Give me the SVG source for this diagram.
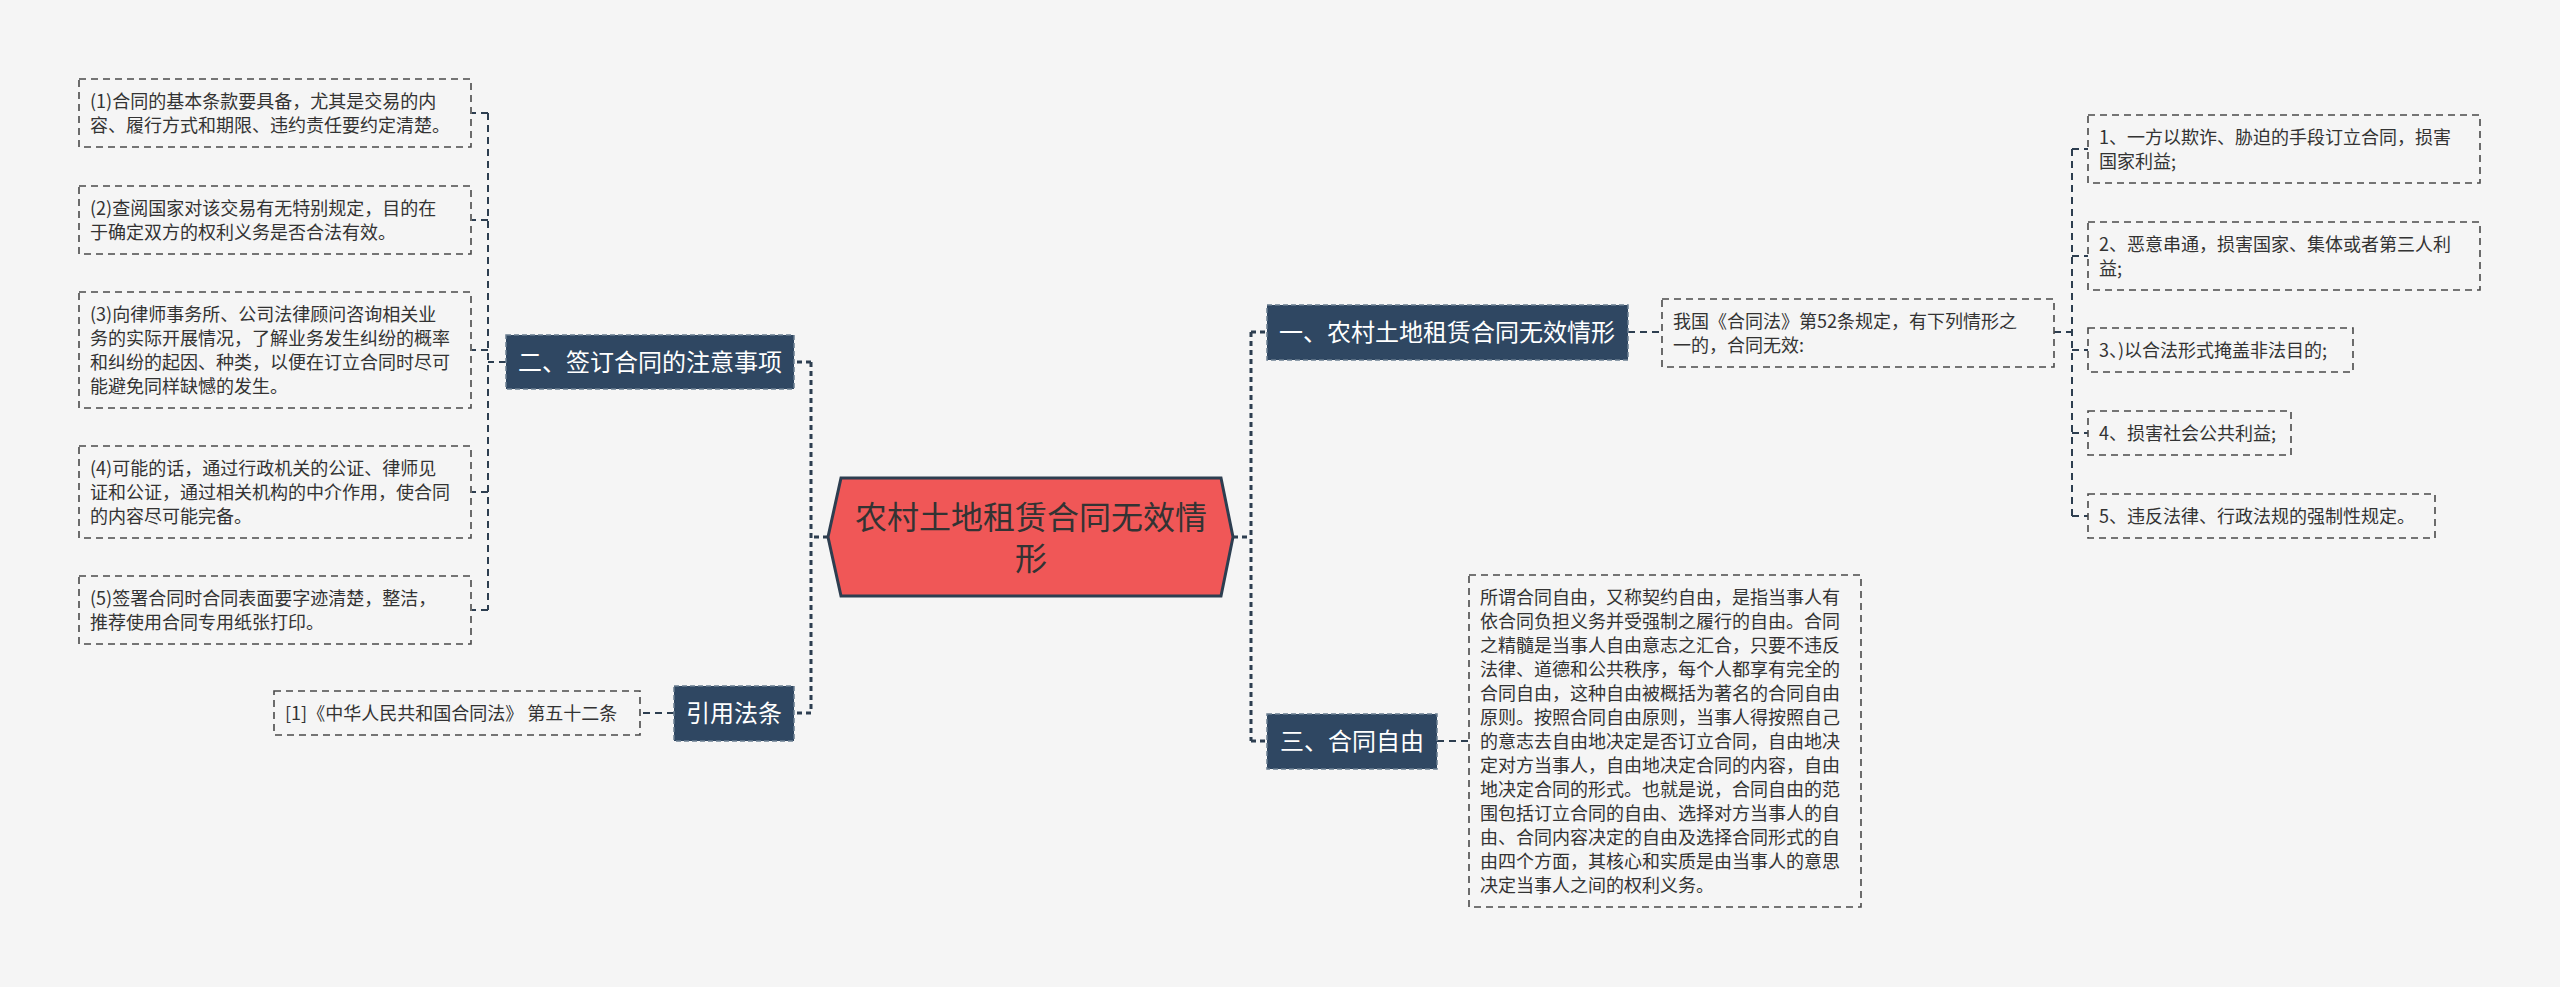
<svg xmlns="http://www.w3.org/2000/svg" width="2560" height="987" viewBox="0 0 2560 987">
<style>
.bg{fill:#f5f5f5}
.leaf{fill:none;stroke:#4a4a4a;stroke-width:1.6;stroke-dasharray:7,5}
.lt{font-family:"Noto Sans CJK SC","Noto Sans",sans-serif;font-size:18px;fill:#333333}
.br{fill:#2f4762;stroke:#6a7d90;stroke-width:1.5;stroke-dasharray:5,3}
.bt{font-family:"Noto Sans CJK SC","Noto Sans",sans-serif;font-size:24px;fill:#ffffff;text-anchor:middle}
.ct{font-family:"Noto Sans CJK SC","Noto Sans",sans-serif;font-size:32px;fill:#333333;text-anchor:middle}
.c1{fill:none;stroke:#2d3e50;stroke-width:3;stroke-dasharray:5,4}
.c2{fill:none;stroke:#2d3e50;stroke-width:2;stroke-dasharray:7,5}
</style>
<rect class="bg" x="0" y="0" width="2560" height="987"/>
<g id="connectors">
<path class="c1" d="M828,537 H811 M811,362 V713 M811,362 H794 M811,713 H794"/>
<path class="c1" d="M1233,537 H1251 M1251,332 V741 M1251,332 H1267 M1251,741 H1267"/>
<path class="c2" d="M506,362 H488 M488,113 V610 M488,113 H472 M488,220 H472 M488,350 H472 M488,492 H472 M488,610 H472"/>
<path class="c2" d="M674,713 H640"/>
<path class="c2" d="M1628,332 H1662"/>
<path class="c2" d="M2054,332 H2072 M2072,149 V516 M2072,149 H2088 M2072,256 H2088 M2072,350 H2088 M2072,433 H2088 M2072,516 H2088"/>
<path class="c2" d="M1437,741 H1469"/>
</g>
<g id="center">
<polygon points="828,537 841,478 1221,478 1233,537 1221,596 841,596" fill="#f05757" stroke="#2d3e50" stroke-width="3"/>
<text class="ct" x="1031" y="529">农村土地租赁合同无效情</text>
<text class="ct" x="1031" y="570">形</text>
</g>
<g id="n2">
<rect class="br" x="506" y="335" width="288" height="54"/>
<text class="bt" x="650" y="371">二、签订合同的注意事项</text>
</g>
<g id="n2-1">
<rect class="leaf" x="79" y="79" width="392" height="68"/>
<text class="lt" x="90" y="108">(1)合同的基本条款要具备，尤其是交易的内</text>
<text class="lt" x="90" y="132">容、履行方式和期限、违约责任要约定清楚。</text>
</g>
<g id="n2-2">
<rect class="leaf" x="79" y="186" width="392" height="68"/>
<text class="lt" x="90" y="215">(2)查阅国家对该交易有无特别规定，目的在</text>
<text class="lt" x="90" y="239">于确定双方的权利义务是否合法有效。</text>
</g>
<g id="n2-3">
<rect class="leaf" x="79" y="292" width="392" height="116"/>
<text class="lt" x="90" y="321">(3)向律师事务所、公司法律顾问咨询相关业</text>
<text class="lt" x="90" y="345">务的实际开展情况，了解业务发生纠纷的概率</text>
<text class="lt" x="90" y="369">和纠纷的起因、种类，以便在订立合同时尽可</text>
<text class="lt" x="90" y="393">能避免同样缺憾的发生。</text>
</g>
<g id="n2-4">
<rect class="leaf" x="79" y="446" width="392" height="92"/>
<text class="lt" x="90" y="475">(4)可能的话，通过行政机关的公证、律师见</text>
<text class="lt" x="90" y="499">证和公证，通过相关机构的中介作用，使合同</text>
<text class="lt" x="90" y="523">的内容尽可能完备。</text>
</g>
<g id="n2-5">
<rect class="leaf" x="79" y="576" width="392" height="68"/>
<text class="lt" x="90" y="605">(5)签署合同时合同表面要字迹清楚，整洁，</text>
<text class="lt" x="90" y="629">推荐使用合同专用纸张打印。</text>
</g>
<g id="nref">
<rect class="br" x="674" y="686" width="120" height="55"/>
<text class="bt" x="734" y="722">引用法条</text>
</g>
<g id="nref-1">
<rect class="leaf" x="274" y="691" width="366" height="44"/>
<text class="lt" x="285" y="720">[1]《中华人民共和国合同法》 第五十二条</text>
</g>
<g id="n1">
<rect class="br" x="1267" y="305" width="361" height="55"/>
<text class="bt" x="1447" y="341">一、农村土地租赁合同无效情形</text>
</g>
<g id="n1-0">
<rect class="leaf" x="1662" y="299" width="392" height="68"/>
<text class="lt" x="1673" y="328">我国《合同法》第52条规定，有下列情形之</text>
<text class="lt" x="1673" y="352">一的，合同无效:</text>
</g>
<g id="n1-1">
<rect class="leaf" x="2088" y="115" width="392" height="68"/>
<text class="lt" x="2099" y="144">1、一方以欺诈、胁迫的手段订立合同，损害</text>
<text class="lt" x="2099" y="168">国家利益;</text>
</g>
<g id="n1-2">
<rect class="leaf" x="2088" y="222" width="392" height="68"/>
<text class="lt" x="2099" y="251">2、恶意串通，损害国家、集体或者第三人利</text>
<text class="lt" x="2099" y="275">益;</text>
</g>
<g id="n1-3">
<rect class="leaf" x="2088" y="328" width="265" height="44"/>
<text class="lt" x="2099" y="357">3、)以合法形式掩盖非法目的;</text>
</g>
<g id="n1-4">
<rect class="leaf" x="2088" y="411" width="203" height="44"/>
<text class="lt" x="2099" y="440">4、损害社会公共利益;</text>
</g>
<g id="n1-5">
<rect class="leaf" x="2088" y="494" width="347" height="44"/>
<text class="lt" x="2099" y="523">5、违反法律、行政法规的强制性规定。</text>
</g>
<g id="n3">
<rect class="br" x="1267" y="714" width="170" height="55"/>
<text class="bt" x="1352" y="750">三、合同自由</text>
</g>
<g id="n3-1">
<rect class="leaf" x="1469" y="575" width="392" height="332"/>
<text class="lt" x="1480" y="604">所谓合同自由，又称契约自由，是指当事人有</text>
<text class="lt" x="1480" y="628">依合同负担义务并受强制之履行的自由。合同</text>
<text class="lt" x="1480" y="652">之精髓是当事人自由意志之汇合，只要不违反</text>
<text class="lt" x="1480" y="676">法律、道德和公共秩序，每个人都享有完全的</text>
<text class="lt" x="1480" y="700">合同自由，这种自由被概括为著名的合同自由</text>
<text class="lt" x="1480" y="724">原则。按照合同自由原则，当事人得按照自己</text>
<text class="lt" x="1480" y="748">的意志去自由地决定是否订立合同，自由地决</text>
<text class="lt" x="1480" y="772">定对方当事人，自由地决定合同的内容，自由</text>
<text class="lt" x="1480" y="796">地决定合同的形式。也就是说，合同自由的范</text>
<text class="lt" x="1480" y="820">围包括订立合同的自由、选择对方当事人的自</text>
<text class="lt" x="1480" y="844">由、合同内容决定的自由及选择合同形式的自</text>
<text class="lt" x="1480" y="868">由四个方面，其核心和实质是由当事人的意思</text>
<text class="lt" x="1480" y="892">决定当事人之间的权利义务。</text>
</g>
</svg>
